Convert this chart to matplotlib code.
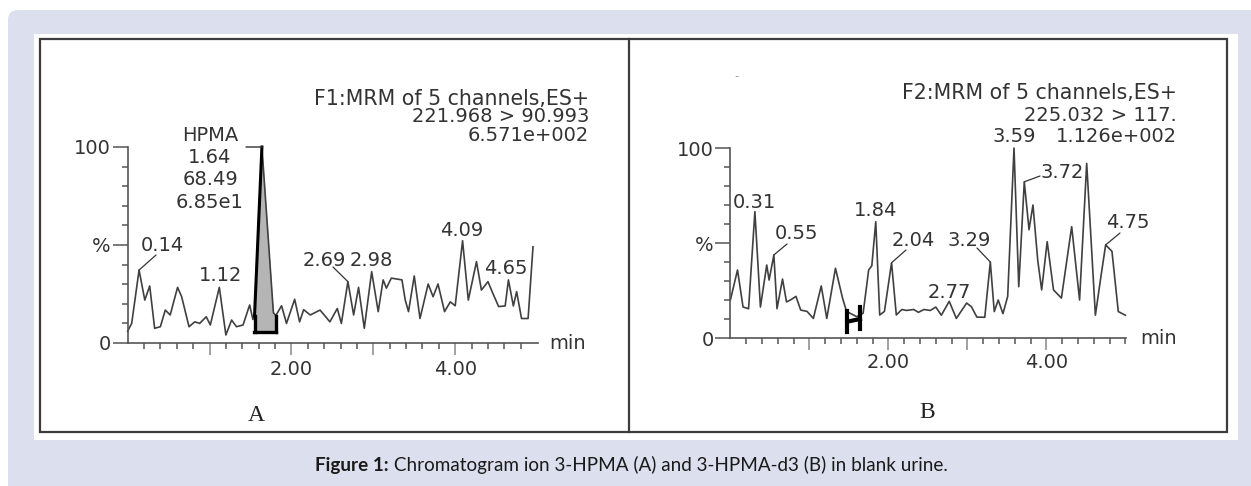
import matplotlib
matplotlib.use('Agg')
import matplotlib.pyplot as plt
from matplotlib.transforms import Affine2D
from matplotlib.patches import Rectangle, FancyBboxPatch
from matplotlib.lines import Line2D
from matplotlib import font_manager
import numpy as np

# ---------------- data ----------------
# Panel A: 3-HPMA channel (time in min, relative intensity in %)
time_a = [0.00, 0.05, 0.14, 0.21, 0.27, 0.33, 0.40, 0.46, 0.52, 0.61, 0.66, 0.75,
          0.82, 0.88, 0.96, 1.01, 1.12, 1.20, 1.27, 1.33, 1.41, 1.49, 1.53, 1.55,
          1.64, 1.78, 1.81, 1.88, 1.94, 2.04, 2.10, 2.15, 2.23, 2.35, 2.47, 2.56,
          2.61, 2.69, 2.76, 2.82, 2.89, 2.98, 3.06, 3.12, 3.16, 3.22, 3.35, 3.39,
          3.43, 3.50, 3.57, 3.67, 3.73, 3.79, 3.87, 3.94, 4.00, 4.09, 4.16, 4.26,
          4.32, 4.40, 4.46, 4.53, 4.61, 4.65, 4.71, 4.75, 4.81, 4.89, 4.95]
inten_a = [6.0, 10.0, 37.2, 21.9, 29.1, 7.5, 8.3, 16.8, 14.3, 28.4, 23.6, 8.3,
           10.8, 10.0, 13.4, 9.2, 28.4, 4.1, 11.7, 8.3, 9.2, 19.4, 12.0, 14.0,
           100.0, 15.5, 14.0, 19.0, 10.0, 22.3, 10.8, 17.0, 14.3, 16.8, 10.8, 17.6,
           10.0, 31.3, 14.3, 28.4, 7.5, 36.4, 16.0, 32.2, 28.0, 33.1, 32.2, 21.9,
           16.0, 34.2, 12.5, 30.1, 23.6, 30.1, 16.0, 21.0, 19.0, 52.2, 21.9, 41.5,
           27.0, 31.3, 25.3, 18.6, 18.9, 32.2, 18.9, 26.2, 12.5, 12.5, 49.1]

# Panel B: 3-HPMA-d3 channel
time_b = [0.00, 0.09, 0.16, 0.23, 0.31, 0.38, 0.46, 0.49, 0.55, 0.59, 0.66, 0.71,
          0.76, 0.83, 0.89, 0.97, 1.05, 1.15, 1.22, 1.33, 1.42, 1.47, 1.60, 1.68,
          1.75, 1.79, 1.84, 1.89, 1.95, 2.04, 2.10, 2.17, 2.23, 2.32, 2.38, 2.45,
          2.53, 2.60, 2.67, 2.77, 2.86, 2.99, 3.05, 3.12, 3.22, 3.29, 3.34, 3.39,
          3.45, 3.51, 3.59, 3.65, 3.72, 3.78, 3.83, 3.89, 3.94, 4.01, 4.09, 4.19,
          4.32, 4.42, 4.51, 4.62, 4.69, 4.75, 4.83, 4.91, 5.00]
inten_b = [20.0, 35.8, 16.3, 15.4, 66.5, 16.3, 38.4, 30.5, 43.7, 15.4, 31.0, 19.0,
           20.0, 21.9, 14.7, 14.0, 10.3, 27.4, 10.3, 36.7, 20.9, 14.0, 11.2, 13.0,
           35.8, 38.0, 61.2, 12.1, 14.0, 39.6, 12.1, 15.0, 14.5, 15.0, 13.5, 15.0,
           14.5, 16.3, 12.0, 19.3, 10.3, 18.4, 16.5, 11.0, 10.9, 40.0, 13.9, 20.0,
           12.8, 21.9, 100.0, 27.0, 82.2, 57.0, 70.0, 41.0, 25.3, 50.7, 25.3, 21.0,
           58.6, 20.0, 91.9, 12.0, 32.3, 49.0, 45.6, 13.9, 12.0]

# integrated peak in A (start, apex, end, baseline %)
peak_a_start, peak_a_apex, peak_a_end, peak_a_base = 1.55, 1.64, 1.81, 5.5
# integration marker "H" in B (start, end)
mark_b_start, mark_b_end = 1.48, 1.64

labels_a = ['0.14', '1.12', '2.69', '2.98', '4.09', '4.65']
labels_b = ['0.31', '0.55', '1.84', '2.04', '2.77', '3.29', '3.59', '3.72', '4.75']
header_a = ['F1:MRM of 5 channels,ES+', '221.968 > 90.993', '6.571e+002']
header_b = ['F2:MRM of 5 channels,ES+', '225.032 > 117.', '1.126e+002']
hpma_block = ['HPMA', '1.64', '68.49', '6.85e1']
xtick_vals = [1, 2, 3, 4]
xtick_text = ['', '2.00', '', '4.00']
ytick_vals = [0, 50, 100]
ytick_text = ['0', '%', '100']
caption_bold = 'Figure 1:'
caption_rest = ' Chromatogram ion 3-HPMA (A) and 3-HPMA-d3 (B) in blank urine.'

# ---------------- figure ----------------
W, H = 1251, 486
fig = plt.figure(figsize=(W / 100, H / 100), dpi=100)
fig.patch.set_facecolor('white')
T = Affine2D().scale(1 / W, -1 / H).translate(0, 1) + fig.transFigure

BLUE = '#dcdfee'
fig.patches.append(FancyBboxPatch((8, 10), 1300, 520, boxstyle='round,pad=0,rounding_size=10',
                                  transform=T, facecolor=BLUE, edgecolor='none', zorder=-5))
fig.patches.append(Rectangle((34, 34), 1238 - 34, 440 - 34, transform=T,
                             facecolor='white', edgecolor='none', zorder=-4))
fig.patches.append(Rectangle((40, 39), 1227 - 40, 432 - 39, transform=T,
                             facecolor='none', edgecolor='#3c3c3c', lw=1.6, zorder=-3))
fig.lines.append(Line2D([629, 629], [39, 432], transform=T, color='#3c3c3c', lw=1.6))

TXT = '#333333'
AX = '#555555'
FS = 14
fam = ['DejaVu Sans']


def ftext(x, y, s, ha='center', va='center', **kw):
    kw.setdefault('color', TXT)
    kw.setdefault('fontsize', FS)
    kw.setdefault('family', fam)
    return fig.text(x, y, s, transform=T, ha=ha, va=va, **kw)


def setup(ax, xmax, minor_x, lab_pad):
    ax.set_facecolor('none')
    ax.set_xlim(0, xmax)
    ax.set_ylim(0, 100)
    for s in ('top', 'right'):
        ax.spines[s].set_visible(False)
    for s in ('left', 'bottom'):
        ax.spines[s].set_color(AX)
        ax.spines[s].set_linewidth(1.2)
    ax.set_yticks(ytick_vals)
    ax.set_yticklabels(ytick_text)
    ax.set_yticks([v for v in range(10, 100, 10) if v != 50], minor=True)
    ax.set_xticks(xtick_vals)
    ax.set_xticklabels(xtick_text)
    ax.set_xticks(minor_x, minor=True)
    ax.tick_params(axis='y', which='major', length=11, width=1.1, color=AX,
                   labelsize=FS, labelcolor=TXT, pad=1)
    ax.tick_params(axis='y', which='minor', length=4.5, width=1.1, color=AX)
    ax.tick_params(axis='x', which='major', length=8.5, width=1.1, color='#888888',
                   labelsize=FS, labelcolor=TXT, pad=lab_pad)
    ax.tick_params(axis='x', which='minor', length=4.5, width=1.1, color=AX)
    for lab in ax.get_xticklabels() + ax.get_yticklabels():
        lab.set_family(fam)


minor_a = [round(0.2 * i, 1) for i in range(1, 25) if i % 5 != 0]
minor_b = minor_a + [5.0]
TRACE = '#404040'

# ---- panel A ----
axA = fig.add_axes([127.6 / W, 1 - 343 / H, (538 - 127.6) / W, 196 / H])
setup(axA, (538 - 127.6) / 81.9, minor_a, 4)
ta = np.array(time_a)
ia = np.array(inten_a)
seg = (ta >= peak_a_start) & (ta <= peak_a_end)
axA.fill_between(ta[seg], peak_a_base, ia[seg], color='#b5b5b5', zorder=1, lw=0)
axA.plot(ta, ia, color=TRACE, lw=1.2, clip_on=False, zorder=2)
left = (ta >= peak_a_start) & (ta <= peak_a_apex)
axA.plot(ta[left], ia[left], color='black', lw=2.2, clip_on=False, zorder=3)
axA.plot([peak_a_start - 0.01, peak_a_end], [peak_a_base, peak_a_base], color='black', lw=2.4, zorder=3)
axA.plot([peak_a_start, peak_a_start], [peak_a_base, ia[ta == peak_a_start][0]], color='black', lw=2.4, zorder=3)
axA.plot([peak_a_end, peak_a_end], [peak_a_base, ia[ta == peak_a_end][0]], color='black', lw=2.4, zorder=3)
# HPMA bracket
axA.annotate('', xy=(peak_a_apex, 100), xycoords='data', xytext=(246, 147), textcoords=T,
             arrowprops=dict(arrowstyle='-', color='#333333', lw=1.0, shrinkA=0, shrinkB=0))
for s, y in zip(hpma_block, [135, 157, 179, 202]):
    ftext(210, y, s)
for i, (s, y) in enumerate(zip(header_a, [99, 116, 135])):
    ftext(589, y, s, ha='right', fontsize=14.8 if i == 0 else FS)
ftext(549, 343, 'min', ha='left')
ftext(256, 415, 'A', family=['Liberation Serif', 'DejaVu Serif'], fontsize=17, color='#222222')

lab_pos_a = {'0.14': (162, 245), '1.12': (221, 275), '2.69': (324, 260),
             '2.98': (371, 260), '4.09': (462, 230), '4.65': (506, 268)}
for s in labels_a:
    ftext(*lab_pos_a[s], s)
lead_a = {'0.14': (156, 255), '2.69': (333, 267)}
for s, p in lead_a.items():
    t = float(s)
    v = ia[np.argmin(abs(ta - t))]
    axA.annotate('', xy=(t, v), xycoords='data', xytext=p, textcoords=T,
                 arrowprops=dict(arrowstyle='-', color='#333333', lw=0.9, shrinkA=0, shrinkB=0))

# ---- panel B ----
axB = fig.add_axes([730.4 / W, 1 - 338 / H, (1126 - 730.4) / W, 190 / H])
setup(axB, (1126 - 730.4) / 79.0, minor_b, 2.5)
tb = np.array(time_b)
ib = np.array(inten_b)
axB.plot(tb, ib, color=TRACE, lw=1.2, clip_on=False, zorder=2)
axB.plot([mark_b_start, mark_b_start], [3.3, 14], color='black', lw=3, zorder=3)
axB.plot([mark_b_end, mark_b_end], [5, 16.5], color='black', lw=3, zorder=3)
axB.plot([mark_b_start, mark_b_end], [8.6, 10], color='black', lw=3, zorder=3)
for i, (s, y) in enumerate(zip(header_b, [93, 115, 136])):
    ftext(1177, y, s, ha='right', fontsize=14.8 if i == 0 else FS)
ftext(1140, 338, 'min', ha='left')
ftext(927, 412, 'B', family=['Liberation Serif', 'DejaVu Serif'], fontsize=17, color='#222222')
ftext(737, 77, '-', color='#aaaaaa', fontsize=9)

lab_pos_b = {'0.31': (754, 202), '0.55': (796, 233), '1.84': (876, 210), '2.04': (913, 240),
             '2.77': (949, 292), '3.29': (969, 240), '3.59': (1014, 136), '3.72': (1062, 172),
             '4.75': (1128, 222)}
for s in labels_b:
    ftext(*lab_pos_b[s], s)
lead_b = {'0.55': (787, 244), '2.04': (906, 250), '3.29': (977, 248), '3.72': (1040, 176),
          '4.75': (1120, 233)}
for s, p in lead_b.items():
    t = float(s)
    v = ib[np.argmin(abs(tb - t))]
    axB.annotate('', xy=(t, v), xycoords='data', xytext=p, textcoords=T,
                 arrowprops=dict(arrowstyle='-', color='#333333', lw=0.9, shrinkA=0, shrinkB=0))

# ---- caption ----
names = {f.name for f in font_manager.fontManager.ttflist}
cap_fam = 'Liberation Sans Narrow' if 'Liberation Sans Narrow' in names else 'Lato'
renderer = fig.canvas.get_renderer()
size = 13.0
for _ in range(2):
    c1 = fig.text(315 / W, 1 - 465 / H, caption_bold, fontweight='bold', family=cap_fam,
                  fontsize=size, va='center', ha='left', color='#1a1a1a')
    bb = c1.get_window_extent(renderer)
    c2 = fig.text(bb.x1 / W, 1 - 465 / H, caption_rest, family=cap_fam,
                  fontsize=size, va='center', ha='left', color='#1a1a1a')
    bb2 = c2.get_window_extent(renderer)
    total = bb2.x1 - bb.x0
    if _ == 0:
        c1.remove(); c2.remove()
        size = size * 630 / total

fig.savefig('out.png', dpi=100, facecolor=fig.get_facecolor())
